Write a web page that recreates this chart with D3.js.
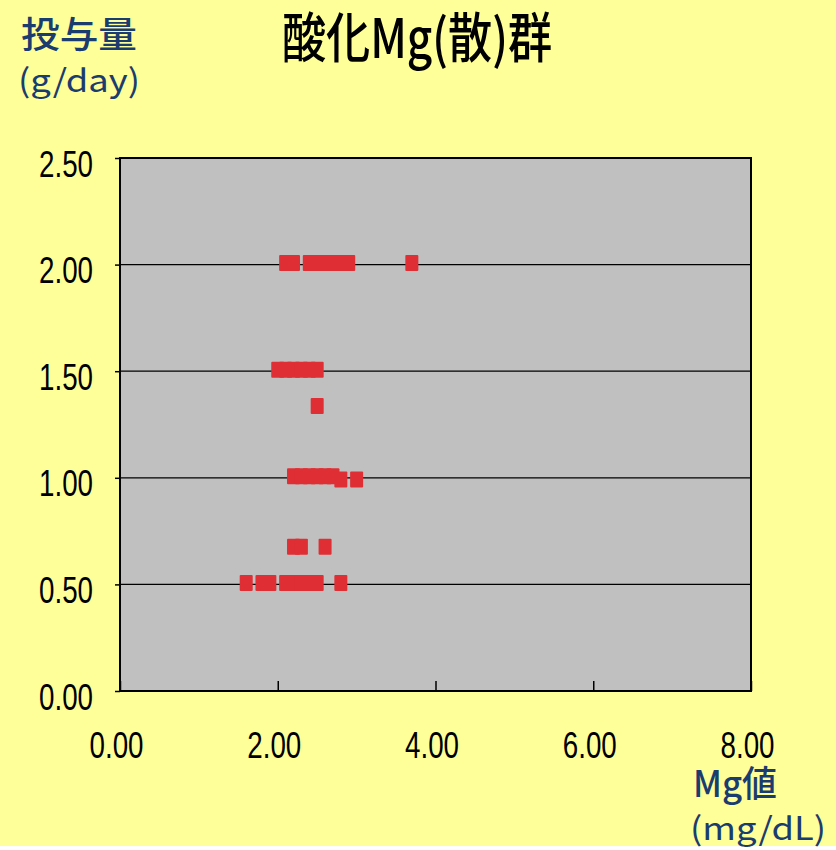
<!DOCTYPE html>
<html><head><meta charset="utf-8">
<script src="https://cdn.jsdelivr.net/npm/d3@7"></script>
<style>
html,body{margin:0;padding:0;background:#ffffff;}
svg{display:block;}
</style></head>
<body>
<script>
// ---- data (Mg値 mg/dL, 投与量 g/day) ----
const mgValues   = [2.1,2.2,2.4,2.5,2.6,2.7,2.8,2.9,3.7,
                    2.0,2.1,2.2,2.3,2.4,2.5,
                    2.5,
                    2.2,2.3,2.4,2.5,2.6,2.7,2.8,3.0,
                    2.2,2.3,2.6,
                    1.6,1.8,1.9,2.1,2.2,2.3,2.4,2.5,2.8];
const doseValues = [2.0,2.0,2.0,2.0,2.0,2.0,2.0,2.0,2.0,
                    1.5,1.5,1.5,1.5,1.5,1.5,
                    1.33,
                    1.0,1.0,1.0,1.0,1.0,1.0,0.985,0.985,
                    0.67,0.67,0.67,
                    0.5,0.5,0.5,0.5,0.5,0.5,0.5,0.5,0.5];
const xTicks = [0,2,4,6,8];
const yTicks = [0,0.5,1.0,1.5,2.0,2.5];
const titleText = "酸化Mg(散)群";
const yTitle1 = "投与量", yTitle2 = "(g/day)";
const xTitle1 = "Mg値", xTitle2 = "(mg/dL)";

(function () {
const W = 836, H = 850;
const svg = d3.select("body").append("svg").attr("width", W).attr("height", H);
svg.append("rect").attr("width", W).attr("height", 846).attr("fill", "#ffff99");

const pL = 120, pR = 751, pT = 158, pB = 691;
const x = d3.scaleLinear().domain([0, 8]).range([pL, pR]);
const y = d3.scaleLinear().domain([0, 2.5]).range([pB, pT]);

svg.append("rect").attr("x", pL).attr("y", pT)
  .attr("width", pR - pL).attr("height", pB - pT).attr("fill", "#c0c0c0");

// gridlines
svg.append("g").selectAll("line").data(yTicks.filter(d => d > 0 && d < 2.5)).join("line")
  .attr("x1", pL).attr("x2", pR).attr("y1", d => y(d)).attr("y2", d => y(d))
  .attr("stroke", "#000").attr("stroke-width", 1.2);

// axes
const tickFont = "'Liberation Sans','Arial',sans-serif";
const yAxis = svg.append("g").attr("transform", `translate(${pL},0)`)
  .call(d3.axisLeft(y).tickValues(yTicks).tickFormat(d3.format(".2f")).tickSize(5).tickPadding(22));
yAxis.select(".domain").remove();
yAxis.selectAll(".tick line").attr("stroke", "#000").attr("stroke-width", 1.5);
yAxis.selectAll(".tick text").attr("font-family", tickFont).attr("font-size", 36)
  .attr("fill", "#000").attr("dy", "0.5em").attr("textLength", 54).attr("lengthAdjust", "spacingAndGlyphs");

const xAxis = svg.append("g").attr("transform", `translate(0,${pB})`)
  .call(d3.axisBottom(x).tickValues(xTicks).tickFormat(d3.format(".2f")).tickSize(-10).tickPadding(60));
xAxis.select(".domain").remove();
xAxis.selectAll(".tick line").attr("stroke", "#000").attr("stroke-width", 1.5);
xAxis.selectAll(".tick text").attr("font-family", tickFont).attr("font-size", 36)
  .attr("fill", "#000").attr("dx", -4).attr("dy", "0.2em").attr("textLength", 54).attr("lengthAdjust", "spacingAndGlyphs");

// plot border
svg.append("rect").attr("x", pL).attr("y", pT)
  .attr("width", pR - pL).attr("height", pB - pT)
  .attr("fill", "none").attr("stroke", "#000").attr("stroke-width", 2);

// markers
const pts = mgValues.map((v, i) => ({mg: v, dose: doseValues[i]}));
svg.append("g").selectAll("rect").data(pts).join("rect")
  .attr("x", d => x(d.mg) - 6.5).attr("y", d => y(d.dose) - 9.5)
  .attr("width", 13).attr("height", 16)
  .attr("fill", "#df2f35").attr("rx", 1);

// texts
const cjk = "'Noto Sans CJK JP','Noto Sans',sans-serif";
svg.append("text").text(titleText).attr("x", 282).attr("y", 58)
  .attr("font-family", cjk).attr("font-weight", 500).attr("font-size", 54)
  .attr("fill", "#000").attr("textLength", 270).attr("lengthAdjust", "spacingAndGlyphs");
const blue = "#1a3c6e";
svg.append("text").text(yTitle1).attr("x", 21).attr("y", 48)
  .attr("font-family", cjk).attr("font-weight", 500).attr("font-size", 36).attr("fill", blue)
  .attr("textLength", 116).attr("lengthAdjust", "spacingAndGlyphs");
svg.append("text").text(yTitle2).attr("x", 18).attr("y", 92)
  .attr("font-family", cjk).attr("font-size", 32).attr("fill", blue)
  .attr("textLength", 122).attr("lengthAdjust", "spacingAndGlyphs");
svg.append("text").text(xTitle1).attr("x", 693).attr("y", 797)
  .attr("font-family", cjk).attr("font-weight", 500).attr("font-size", 36).attr("fill", blue)
  .attr("textLength", 84).attr("lengthAdjust", "spacingAndGlyphs");
svg.append("text").text(xTitle2).attr("x", 690).attr("y", 840)
  .attr("font-family", cjk).attr("font-size", 32).attr("fill", blue)
  .attr("textLength", 136).attr("lengthAdjust", "spacingAndGlyphs");
})();
</script>
</body></html>
